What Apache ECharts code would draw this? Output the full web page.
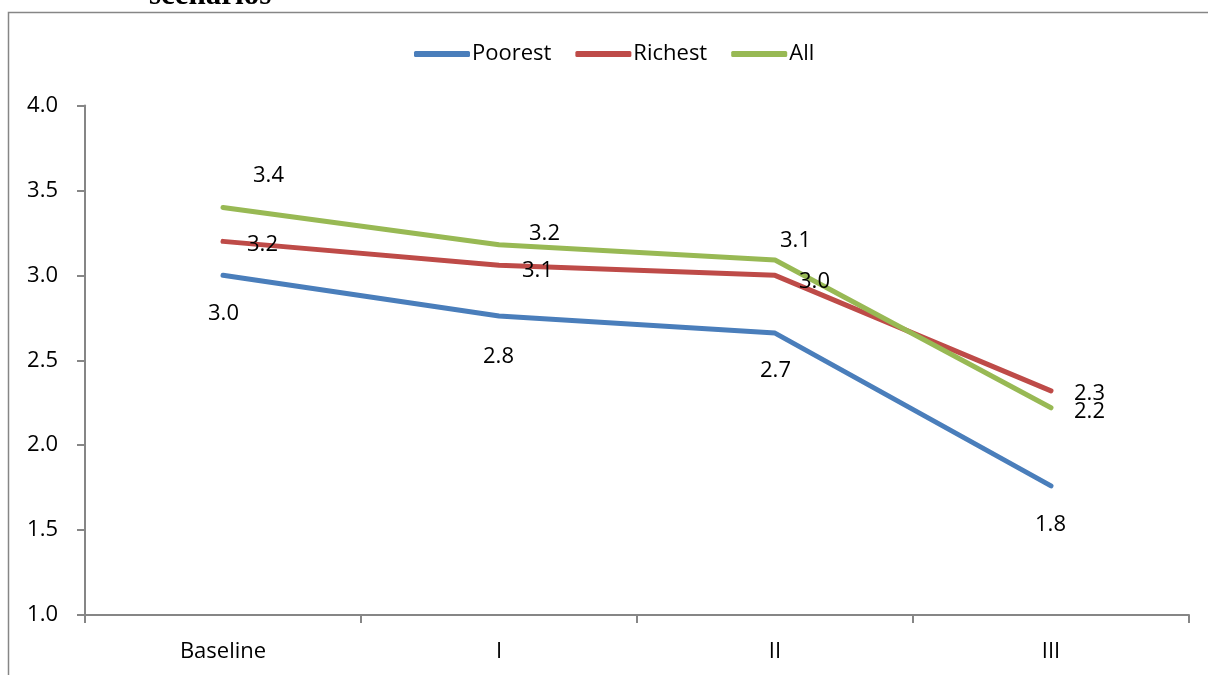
<!DOCTYPE html>
<html>
<head>
<meta charset="utf-8">
<title>Scenarios</title>
<script src="https://cdn.jsdelivr.net/npm/echarts@6/dist/echarts.min.js"></script>
<style>
  html, body { margin: 0; padding: 0; background: #ffffff; }
  #chart { width: 1208px; height: 675px; }
</style>
</head>
<body>
<div id="chart"></div>
<script>
// Categories and series values
var categories = ['Baseline', 'I', 'II', 'III'];
var poorest = [3.0, 2.76, 2.66, 1.76];
var richest = [3.2, 3.06, 3.0, 2.32];
var all = [3.4, 3.18, 3.09, 2.22];
var yTicks = [1.0, 1.5, 2.0, 2.5, 3.0, 3.5, 4.0];

// Label placement around each point (pixels from the point)
var poorestOffsets = [[1, 39], [0, 41], [1, 38], [0, 39]];
var richestOffsets = [[40, 4], [39, 6], [40, 7], [39, 3]];
var allOffsets = [[46, -31], [46, -11], [21, -19], [39, 4]];

var FONT = "'Open Sans', 'Noto Sans', sans-serif";
var AXIS_GRAY = '#868686';

function withLabels(values, offsets) {
  return values.map(function (v, i) {
    return {
      value: v,
      label: {
        show: true,
        position: [offsets[i][0], offsets[i][1]],
        align: 'center',
        verticalAlign: 'middle'
      }
    };
  });
}

function lineSeries(name, values, offsets, color) {
  return {
    name: name,
    type: 'line',
    data: withLabels(values, offsets),
    symbol: 'circle',
    symbolSize: 1,
    showSymbol: true,
    showAllSymbol: true,
    smooth: false,
    lineStyle: { color: color, width: 5, cap: 'round', join: 'round' },
    itemStyle: { color: color },
    label: {
      show: true,
      color: '#000000',
      fontFamily: FONT,
      fontSize: 22,
      formatter: function (p) { return p.value.toFixed(1); }
    },
    labelLayout: { hideOverlap: false },
    emphasis: { disabled: true },
    z: 3
  };
}

var chart = echarts.init(document.getElementById('chart'), null, { renderer: 'canvas' });

chart.setOption({
  animation: false,
  backgroundColor: '#ffffff',
  graphic: [
    {
      type: 'text',
      left: 149,
      top: -20,
      style: {
        text: 'scenarios',
        fill: '#000000',
        font: "bold 31px 'Liberation Serif', 'DejaVu Serif', serif"
      },
      z: 10
    },
    {
      type: 'rect',
      shape: { x: 8.5, y: 12.5, width: 1300, height: 800 },
      style: { fill: 'none', stroke: AXIS_GRAY, lineWidth: 1.5 },
      silent: true,
      z: 0
    }
  ],
  legend: {
    left: 409,
    top: 38,
    icon: 'roundRect',
    itemWidth: 56,
    itemHeight: 6,
    itemGap: 24,
    textStyle: { color: '#000000', fontFamily: FONT, fontSize: 22, padding: [0, 0, 0, -3] },
    data: ['Poorest', 'Richest', 'All']
  },
  grid: { left: 85, right: 19, top: 105.5, bottom: 60, containLabel: false },
  xAxis: {
    type: 'category',
    data: categories,
    boundaryGap: true,
    axisLine: { lineStyle: { color: AXIS_GRAY, width: 2 } },
    axisTick: { show: true, alignWithLabel: false, length: 8, lineStyle: { color: AXIS_GRAY, width: 2 } },
    axisLabel: { color: '#000000', fontFamily: FONT, fontSize: 22, margin: 26 },
    splitLine: { show: false }
  },
  yAxis: {
    type: 'value',
    min: yTicks[0],
    max: yTicks[yTicks.length - 1],
    interval: 0.5,
    axisLine: { show: true, lineStyle: { color: AXIS_GRAY, width: 2 } },
    axisTick: { show: true, length: 8, lineStyle: { color: AXIS_GRAY, width: 2 } },
    axisLabel: {
      color: '#000000', fontFamily: FONT, fontSize: 22, margin: 27,
      formatter: function (v) { return v.toFixed(1); }
    },
    splitLine: { show: false }
  },
  series: [
    lineSeries('Poorest', poorest, poorestOffsets, '#4A7EBB'),
    lineSeries('Richest', richest, richestOffsets, '#BE4B48'),
    lineSeries('All', all, allOffsets, '#98B954')
  ]
});
</script>
</body>
</html>
